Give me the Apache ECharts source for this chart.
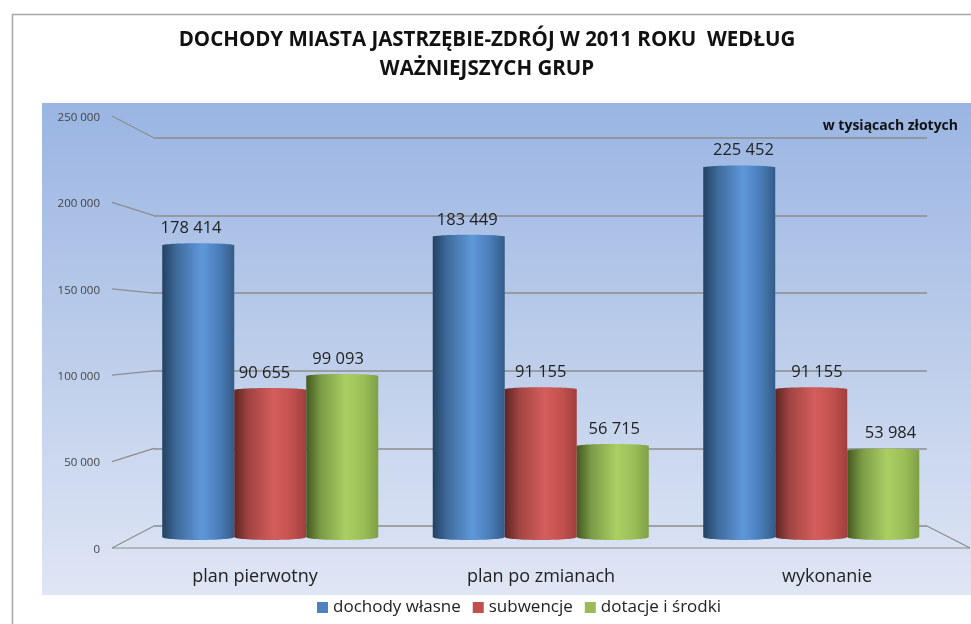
<!DOCTYPE html>
<html><head><meta charset="utf-8">
<style>html,body{margin:0;padding:0;background:#fff}#c{width:971px;height:624px}</style>
<script src="https://cdn.jsdelivr.net/npm/echarts@6/dist/echarts.min.js"></script>
</head><body><div id="c"></div>
<script>
const categories = ['plan pierwotny', 'plan po zmianach', 'wykonanie'];
const seriesNames = ['dochody własne', 'subwencje', 'dotacje i środki'];
const dochody = [178414, 183449, 225452];
const subwencje = [90655, 91155, 91155];
const dotacje = [99093, 56715, 53984];
const ticks = [0, 50000, 100000, 150000, 200000, 250000];
const unitLabel = 'w tysiącach złotych';
const titleText = 'DOCHODY MIASTA JASTRZĘBIE-ZDRÓJ W 2011 ROKU  WEDŁUG\nWAŻNIEJSZYCH GRUP';

const font = '"Open Sans", sans-serif';
const fmt = v => String(v).replace(/\B(?=(\d{3})+$)/g, ' ');
const axisMax = 250000;
const front = {left: 112, right: 970, top: 116, bottom: 548};
const back = {left: 154, right: 927, top: 138, bottom: 526};
const plot = {left: 135, width: 811.5, top: 127, bottom: 539.6};
const tickLabels = {top: 117.5, bottom: 549.5};
const labelSpread = 1.021;
const palettes = [
  {base: '#4f81bd', stops: ['#234261', '#3f6a9c', '#5f98da', '#4a7cb8', '#345c88']},
  {base: '#c0504d', stops: ['#5e2523', '#a04442', '#d55e5b', '#c2514e', '#a03f3d']},
  {base: '#9bbb59', stops: ['#44591f', '#7a9a45', '#abcf64', '#9bbd57', '#7f9f45']}
];
const grad = p => new echarts.graphic.LinearGradient(0, 0, 1, 0, [
  {offset: 0, color: p.stops[0]}, {offset: 0.2, color: p.stops[1]},
  {offset: 0.55, color: p.stops[2]}, {offset: 0.8, color: p.stops[3]},
  {offset: 1, color: p.stops[4]}
]);

function cylinder(si) {
  return function (params, api) {
    const cat = api.value(0), val = api.value(1);
    const top = api.coord([cat, val]);
    const base = api.coord([cat, 0]);
    const mid = api.coord([1, 0])[0];
    const w = api.size([1, 0])[0] * 0.2662;
    const x = top[0] + (si - 1) * w - w / 2;
    const cx = x + w / 2;
    const foot = base[1] - 2.6;
    const fill = grad(palettes[si]);
    return {type: 'group', children: [
      {type: 'ellipse', shape: {cx, cy: foot, rx: w / 2, ry: 3}, style: {fill}},
      {type: 'rect', shape: {x, y: top[1], width: w, height: foot - top[1]}, style: {fill}},
      {type: 'ellipse', shape: {cx, cy: top[1], rx: w / 2, ry: 2}, style: {fill}},
      {type: 'text', style: {x: mid + (cx - mid) * labelSpread, y: top[1] - 17, text: fmt(val), fill: '#222',
        font: '16.5px ' + font, textAlign: 'center', textVerticalAlign: 'middle'}}
    ]};
  };
}

const frameLine = {stroke: '#8c8c8c', lineWidth: 1.2};
function depthLines(params, api) {
  const v = api.value(0);
  const p = api.coord([0, v]);
  const by = back.bottom - v / axisMax * (back.bottom - back.top);
  return {type: 'line', shape: {x1: p[0], y1: p[1], x2: back.left, y2: by}, style: frameLine};
}
function floorEdges(params, api) {
  const l = api.coord([0, 0]), r = api.coord([1, 0]);
  return {type: 'group', children: [
    {type: 'line', shape: {x1: l[0], y1: l[1], x2: r[0], y2: r[1]}, style: frameLine},
    {type: 'line', shape: {x1: back.right, y1: back.bottom, x2: r[0], y2: r[1]}, style: frameLine}
  ]};
}

const hiddenAxis = {axisLine: {show: false}, axisTick: {show: false}, axisLabel: {show: false}, splitLine: {show: false}};
const chart = echarts.init(document.getElementById('c'), null, {renderer: 'canvas'});
chart.setOption({
  animation: false,
  backgroundColor: '#ffffff',
  title: {
    text: titleText, left: 482, top: 21, textAlign: 'center',
    textStyle: {fontFamily: font, fontWeight: 'bold', fontSize: 20.5, lineHeight: 29, color: '#111'}
  },
  graphic: [
    {type: 'polyline', silent: true, z: -10, shape: {points: [[12.5, 624], [12.5, 14.5], [971, 14.5]]},
     style: {stroke: '#a6a6a6', lineWidth: 1.5, fill: null}},
    {type: 'rect', silent: true, z: -10, shape: {x: 42, y: 103, width: 929, height: 492},
     style: {fill: new echarts.graphic.LinearGradient(0, 0, 0, 1, [
       {offset: 0, color: '#9ab5e3'}, {offset: 0.5, color: '#bccdea'}, {offset: 1, color: '#dfe6f5'}])}},
    {type: 'text', silent: true, z: 5, style: {x: 958, y: 126, text: unitLabel, fill: '#111',
      font: 'bold 14px ' + font, textAlign: 'right', textVerticalAlign: 'middle'}}
  ],
  legend: {
    left: 312, top: 594, itemWidth: 11, itemHeight: 11, itemGap: 12, icon: 'rect',
    data: seriesNames,
    textStyle: {fontFamily: font, fontSize: 17, color: '#222'}
  },
  grid: [
    {left: front.left, width: front.right - front.left, top: front.top, height: front.bottom - front.top},
    {left: back.left, width: back.right - back.left, top: back.top, height: back.bottom - back.top},
    {left: plot.left, width: plot.width, top: plot.top, height: plot.bottom - plot.top},
    {left: front.left, width: front.right - front.left, top: tickLabels.top, height: tickLabels.bottom - tickLabels.top}
  ],
  xAxis: [
    Object.assign({type: 'value', gridIndex: 0, min: 0, max: 1, position: 'top'}, hiddenAxis),
    Object.assign({type: 'value', gridIndex: 1, min: 0, max: 1}, hiddenAxis),
    Object.assign({type: 'category', gridIndex: 2, data: categories}, hiddenAxis),
    {type: 'category', gridIndex: 0, position: 'bottom', data: categories, axisLine: {show: false}, axisTick: {show: false},
     axisLabel: {margin: 20, fontFamily: font, fontSize: 18, color: '#222'}},
    Object.assign({type: 'value', gridIndex: 3, min: 0, max: 1}, hiddenAxis)
  ],
  yAxis: [
    Object.assign({type: 'value', gridIndex: 0, min: 0, max: axisMax, interval: 50000}, hiddenAxis),
    {type: 'value', gridIndex: 1, min: 0, max: axisMax, interval: 50000,
     axisLine: {show: false}, axisTick: {show: false}, axisLabel: {show: false},
     splitLine: {show: true, lineStyle: {color: '#8c8c8c', width: 1.5}}},
    Object.assign({type: 'value', gridIndex: 2, min: 0, max: axisMax, interval: 50000}, hiddenAxis),
    {type: 'value', gridIndex: 3, min: 0, max: axisMax, interval: 50000,
     axisLine: {show: false}, axisTick: {show: false}, splitLine: {show: false},
     axisLabel: {margin: 12, fontFamily: font, fontSize: 11.5, color: '#444', formatter: fmt}}
  ],
  series: [
    {type: 'custom', name: 'depth', xAxisIndex: 0, yAxisIndex: 0, silent: true, z: 1, clip: false,
     data: ticks.map(t => [t]), encode: {y: 0}, renderItem: depthLines},
    {type: 'custom', name: 'floor', xAxisIndex: 0, yAxisIndex: 0, silent: true, z: 1, clip: false,
     data: [[0]], encode: {y: 0}, renderItem: floorEdges},
    ...[dochody, subwencje, dotacje].map((vals, si) => ({
      type: 'custom', name: seriesNames[si], xAxisIndex: 2, yAxisIndex: 2, z: 3, clip: false,
      itemStyle: {color: palettes[si].base},
      data: vals.map((v, i) => [i, v]), encode: {x: 0, y: 1},
      renderItem: cylinder(si)
    }))
  ]
});
</script></body></html>
